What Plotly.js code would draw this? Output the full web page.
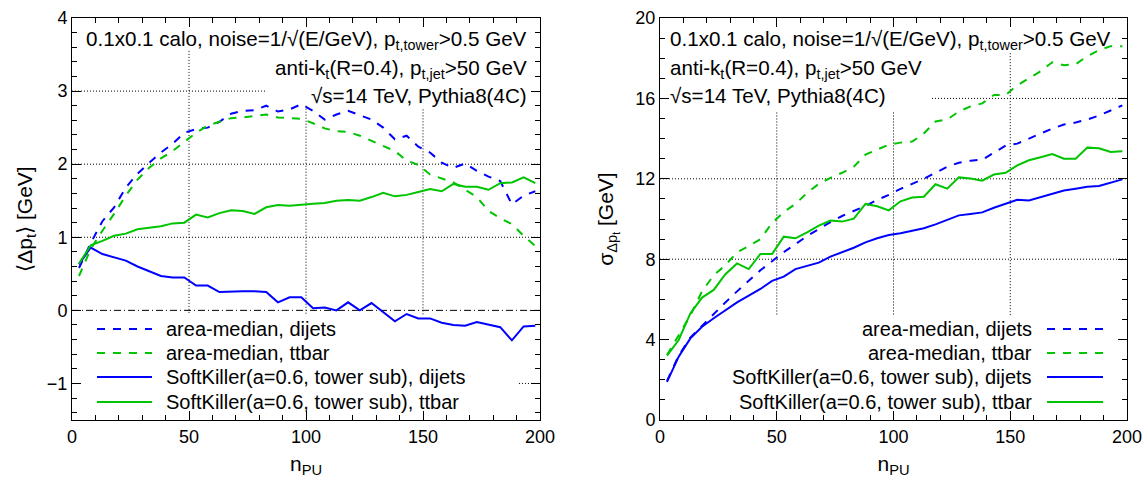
<!DOCTYPE html>
<html>
<head>
<meta charset="utf-8">
<script src="https://cdn.plot.ly/plotly-3.0.1.min.js"></script>
<style>html,body{margin:0;padding:0;background:#fff;}#chart{width:1148px;height:480px;}</style>
</head>
<body>
<div id="chart"></div>
<script>
// ---- data ----
const nPU = [3,8,13,18,23,28,33,38,43,48,53,58,63,68,73,78,83,88,93,98,103,108,113,118,123,128,133,138,143,148,153,158,163,168,173,178,183,188,193,198];

// left panel: <Delta pt> [GeV]
const amDijetsMean = [0.58,0.92,1.22,1.41,1.68,1.87,2.02,2.16,2.28,2.43,2.48,2.50,2.58,2.69,2.73,2.74,2.80,2.72,2.75,2.82,2.73,2.61,2.68,2.73,2.67,2.61,2.50,2.34,2.39,2.24,2.16,2.02,1.95,2.01,1.91,1.83,1.77,1.45,1.57,1.63];
const amTtbarMean = [0.47,0.84,1.09,1.32,1.57,1.79,1.95,2.08,2.18,2.30,2.43,2.53,2.58,2.63,2.64,2.66,2.68,2.64,2.63,2.62,2.56,2.49,2.45,2.44,2.39,2.32,2.25,2.18,2.05,1.99,1.86,1.80,1.75,1.65,1.55,1.36,1.26,1.18,1.02,0.88];
const skDijetsMean = [0.63,0.86,0.77,0.72,0.68,0.60,0.53,0.47,0.45,0.45,0.34,0.34,0.25,0.26,0.26,0.26,0.25,0.11,0.18,0.18,0.03,0.04,0.00,0.11,0.00,0.10,-0.03,-0.15,-0.05,-0.11,-0.11,-0.17,-0.20,-0.21,-0.16,-0.20,-0.23,-0.41,-0.22,-0.21];
const skTtbarMean = [0.64,0.89,0.95,1.02,1.05,1.11,1.13,1.15,1.19,1.20,1.31,1.27,1.33,1.37,1.36,1.32,1.41,1.44,1.43,1.45,1.46,1.47,1.50,1.51,1.50,1.55,1.61,1.56,1.58,1.62,1.66,1.63,1.73,1.69,1.69,1.65,1.74,1.75,1.82,1.74];

// right panel: sigma_{Delta pt} [GeV]
const amDijetsSigma = [1.95,3.2,4.1,4.7,5.25,5.85,6.4,6.95,7.45,7.9,8.35,8.75,9.15,9.5,9.85,10.15,10.4,10.65,10.95,11.2,11.5,11.75,12.0,12.3,12.6,12.8,12.9,12.95,13.3,13.65,13.75,14.0,14.25,14.5,14.7,14.8,14.95,15.15,15.4,15.65];
const amTtbarSigma = [3.23,4.2,5.2,6.4,7.2,7.7,8.35,8.65,9.0,9.8,10.35,10.75,11.3,11.75,12.05,12.3,12.6,13.2,13.45,13.7,13.8,13.85,14.25,14.85,14.95,15.35,15.6,15.75,16.17,16.17,16.65,17.0,17.35,17.8,17.65,17.7,18.1,18.4,18.6,18.6];
const skDijetsSigma = [1.9,3.15,4.06,4.64,5.06,5.47,5.85,6.19,6.52,6.92,7.13,7.51,7.68,7.83,8.13,8.34,8.57,8.84,9.04,9.2,9.29,9.42,9.54,9.73,9.95,10.18,10.25,10.33,10.56,10.78,10.96,10.92,11.09,11.23,11.42,11.51,11.6,11.64,11.79,11.97];
const skTtbarSigma = [3.2,3.98,5.3,6.09,6.47,7.25,7.79,7.51,8.26,8.26,9.12,9.04,9.34,9.67,9.92,9.87,10.02,10.75,10.63,10.43,10.88,11.07,11.11,11.73,11.51,12.07,12.02,11.91,12.21,12.3,12.67,12.92,13.07,13.23,13.0,13.0,13.55,13.52,13.33,13.37];

const seriesNames = ["area-median, dijets","area-median, ttbar","SoftKiller(a=0.6, tower sub), dijets","SoftKiller(a=0.6, tower sub), ttbar"];
const infoLines = ["0.1x0.1 calo, noise=1/√(E/GeV), p<sub>t,tower</sub>>0.5 GeV","anti-k<sub>t</sub>(R=0.4), p<sub>t,jet</sub>>50 GeV","√s=14 TeV, Pythia8(4C)"];

// ---- styles ----
const BLUE = "#0000ff", GREEN = "#00c400";
const FONT = "Liberation Sans, Arial, Helvetica, sans-serif";
const styles = [
  {color: BLUE, dash: "8px,8px"},
  {color: GREEN, dash: "8px,8px"},
  {color: BLUE, dash: "solid"},
  {color: GREEN, dash: "solid"}
];
const W = 1148, H = 480;
const px = v => v / W;
const py = v => 1 - v / H;

const leftSeries = [amDijetsMean, amTtbarMean, skDijetsMean, skTtbarMean];
const rightSeries = [amDijetsSigma, amTtbarSigma, skDijetsSigma, skTtbarSigma];

const traces = [];
leftSeries.forEach((ys, i) => traces.push({
  x: nPU, y: ys, type: "scatter", mode: "lines", name: seriesNames[i],
  xaxis: "x", yaxis: "y", showlegend: false,
  line: {color: styles[i].color, dash: styles[i].dash, width: 2}
}));
rightSeries.forEach((ys, i) => traces.push({
  x: nPU, y: ys, type: "scatter", mode: "lines", name: seriesNames[i],
  xaxis: "x2", yaxis: "y2", showlegend: false,
  line: {color: styles[i].color, dash: styles[i].dash, width: 2}
}));

const gridLine = {color: "#000", width: 1, dash: "1px,2px"};
const shapes = [];
function seg(xref, yref, x0, y0, x1, y1, line) {
  shapes.push({type: "line", xref, yref, x0, y0, x1, y1, line, layer: "below"});
}
// left grid (partially hidden behind text, as in the original)
seg("x","y",0,3,83,3,gridLine);
seg("x","y",0,2,200,2,gridLine);
seg("x","y",0,1,200,1,gridLine);
seg("x","y",191,-1,200,-1,gridLine);
seg("x","y",50,3.55,50,-0.06,gridLine);
seg("x","y",100,2.8,100,-0.06,gridLine);
seg("x","y",150,2.75,150,-0.06,gridLine);
// zero line
seg("x","y",0,0,200,0,{color:"#000", width:1, dash:"7px,3px,1px,3px"});
// right grid
seg("x2","y2",116.5,16,200,16,gridLine);
seg("x2","y2",0,12,200,12,gridLine);
seg("x2","y2",0,8,200,8,gridLine);
seg("x2","y2",50,15.3,50,5.2,gridLine);
seg("x2","y2",100,15.3,100,5.2,gridLine);
seg("x2","y2",150,18.25,150,5.2,gridLine);

// legends (drawn manually, gnuplot style)
const legendY = [329, 353, 377, 402];
const annotations = [];
legendY.forEach((yy, i) => {
  shapes.push({type:"line", xref:"paper", yref:"paper", x0:px(97), x1:px(152), y0:py(yy), y1:py(yy),
    line:{color:styles[i].color, width:2, dash:styles[i].dash}});
  annotations.push({xref:"paper", yref:"paper", x:px(164), y:py(yy), xanchor:"left", yanchor:"middle",
    text: seriesNames[i], showarrow:false, font:{family:FONT, size:20, color:"#000"}});
  shapes.push({type:"line", xref:"paper", yref:"paper", x0:px(1047), x1:px(1103), y0:py(yy), y1:py(yy),
    line:{color:styles[i].color, width:2, dash:styles[i].dash}});
  annotations.push({xref:"paper", yref:"paper", x:px(1034), y:py(yy), xanchor:"right", yanchor:"middle",
    text: seriesNames[i], showarrow:false, font:{family:FONT, size:20, color:"#000"}});
});
// info text
const infoY = [40, 69, 96];
infoLines.forEach((t, i) => {
  annotations.push({xref:"paper", yref:"paper", x:px(529), y:py(infoY[i]), xanchor:"right", yanchor:"middle",
    text:t, showarrow:false, font:{family:FONT, size:20.6, color:"#000"}});
  annotations.push({xref:"paper", yref:"paper", x:px(668), y:py(infoY[i]), xanchor:"left", yanchor:"middle",
    text:t, showarrow:false, font:{family:FONT, size:20.6, color:"#000"}});
});

function xax(domain, anchor) {
  return {
    domain, anchor, range:[0,200], tick0:0, dtick:50, ticks:"inside", ticklen:9, tickwidth:1,
    tickcolor:"#000", showline:true, linecolor:"#000", linewidth:1, mirror:"all", showgrid:false, zeroline:false,
    minor:{dtick:10, tick0:0, ticks:"inside", ticklen:5, tickcolor:"#000", tickwidth:1, showgrid:false},
    tickfont:{family:FONT, size:18, color:"#000"},
    title:{text:"n<sub>PU</sub>", font:{family:FONT, size:21, color:"#000"}, standoff:10}
  };
}
function yax(domain, anchor, range, dtick, minorDtick, title, standoff) {
  return {
    domain, anchor, range, tick0:0, dtick, ticks:"inside", ticklen:9, tickwidth:1,
    tickcolor:"#000", showline:true, linecolor:"#000", linewidth:1, mirror:"all", showgrid:false, zeroline:false,
    minor:{dtick:minorDtick, tick0:0, ticks:"inside", ticklen:5, tickcolor:"#000", tickwidth:1, showgrid:false},
    tickfont:{family:FONT, size:18, color:"#000"},
    title:{text:title, font:{family:FONT, size:21, color:"#000"}, standoff}
  };
}

const layout = {
  width: W, height: H,
  margin: {l:0, r:0, t:0, b:0},
  paper_bgcolor: "#fff", plot_bgcolor: "#fff",
  showlegend: false,
  xaxis: xax([px(72), px(540)], "y"),
  yaxis: yax([1-420/480, 1-18/480], "x", [-1.5,4], 1, 0.2, "⟨Δp<sub>t</sub>⟩ [GeV]", 8),
  xaxis2: xax([px(660), px(1127)], "y2"),
  yaxis2: yax([1-420/480, 1-18/480], "x2", [0,20], 4, 1, "σ<sub>Δp<sub>t</sub></sub> [GeV]", 16),
  shapes, annotations
};

Plotly.newPlot("chart", traces, layout, {displayModeBar:false});
</script>
</body>
</html>
